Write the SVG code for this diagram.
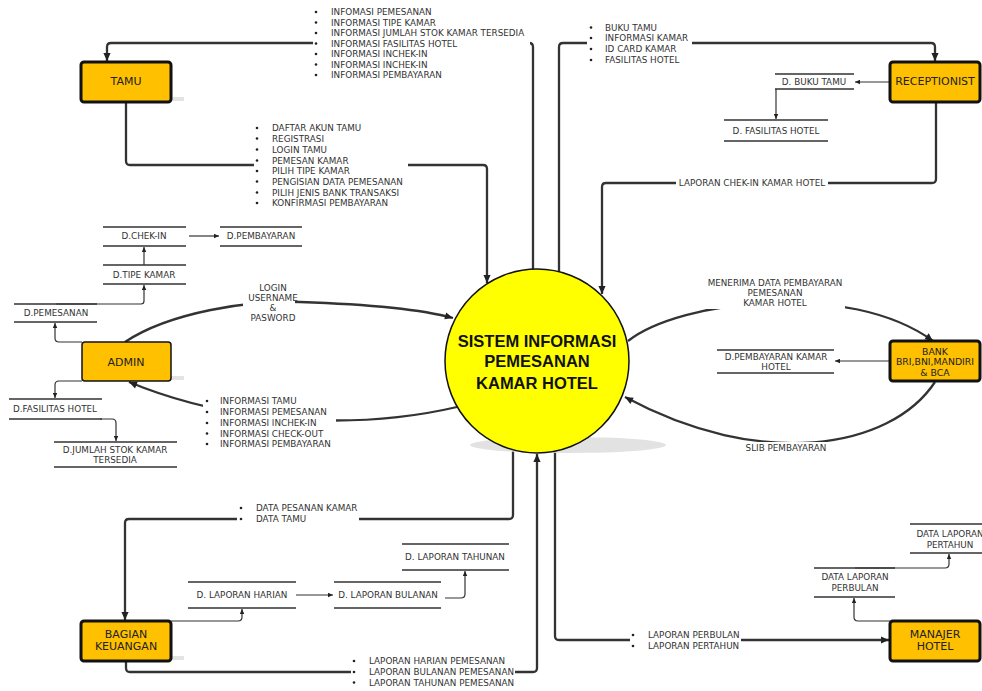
<svg xmlns="http://www.w3.org/2000/svg" width="982" height="691" viewBox="0 0 982 691">
<style>
.bg{fill:#ffffff}
.box{fill:#FFC000;stroke:#111;stroke-width:3}
.box.thin{stroke-width:1.5}
.shadow{fill:#e3e3e3}
.nt{font-family:"DejaVu Sans",Verdana,sans-serif;font-size:11px;fill:#222;text-anchor:middle}
.nts{font-family:"DejaVu Sans",Verdana,sans-serif;font-size:9.3px;fill:#222;text-anchor:middle}
.st{font-family:"DejaVu Sans",Verdana,sans-serif;font-size:8.8px;fill:#333;text-anchor:middle}
.lt{font-family:"DejaVu Sans",Verdana,sans-serif;font-size:8.8px;fill:#333}
.ltc{font-family:"DejaVu Sans",Verdana,sans-serif;font-size:8.8px;fill:#333;text-anchor:middle}
.sl{stroke:#333;stroke-width:1.5;fill:none}
.con{stroke:#333;stroke-width:2.3;fill:none;marker-end:url(#arr)}
.cs{stroke:#333;stroke-width:1.2;fill:none;marker-end:url(#arrs)}
.bul{fill:#222}
.ct{font-family:"Liberation Sans",Arial,sans-serif;font-weight:bold;font-size:16.5px;fill:#111;text-anchor:middle}
</style>
<defs>
<marker id="arr" viewBox="0 0 10 10" refX="10" refY="5" markerWidth="9" markerHeight="8" markerUnits="userSpaceOnUse" orient="auto"><path d="M0,0.5 L10,5 L0,9.5 z" fill="#222"/></marker>
<marker id="arrs" viewBox="0 0 10 10" refX="10" refY="5" markerWidth="6" markerHeight="5" markerUnits="userSpaceOnUse" orient="auto"><path d="M0,0.5 L10,5 L0,9.5 z" fill="#222"/></marker>
</defs>
<rect width="982" height="691" fill="#ffffff"/>

<g id="connectors">
<path class="con" d="M533 270 V47 Q533 43 529 43 H111 Q107 43 107 47 V61"/>
<path class="con" d="M559 272 V47 Q559 43 563 43 H931 Q935 43 935 47 V61"/>
<path class="con" d="M126 102 V161 Q126 165 130 165 H483 Q487 165 487 169 V283"/>
<path class="con" d="M936 102 V179 Q936 183 932 183 H606 Q602 183 602 187 V294"/>
<path class="con" d="M125 342 C170 312 250 300 300 302 C360 304 420 309 453 318" stroke-width="2.6"/>
<path class="con" d="M457 407 C380 425 250 432 129 382" stroke-width="2.6"/>
<path class="con" d="M628 341 C680 300 850 280 933 341" stroke-width="2.6"/>
<path class="con" d="M935 382 C890 450 760 470 625 397" stroke-width="2.6"/>
<path class="con" d="M513 450 V515 Q513 519 509 519 H129 Q125 519 125 523 V620"/>
<path class="con" d="M126 661 V668 Q126 672 130 672 H533 Q537 672 537 668 V454"/>
<path class="con" d="M555 451 V636 Q555 640 559 640 H889"/>
<path class="cs" d="M890 82 H855"/>
<path class="cs" d="M776 89 V119"/>
<path class="cs" d="M189 236 H219"/>
<path class="cs" d="M144 265 V247"/>
<path class="cs" d="M56 304 H141 Q144 304 144 301 V285"/>
<path class="cs" d="M82 342 H59 Q55 342 55 338 V323"/>
<path class="cs" d="M82 381 H59 Q55 381 55 385 V398"/>
<path class="cs" d="M100 419 H112 Q116 419 116 423 V441"/>
<path class="cs" d="M890 361 H835"/>
<path class="cs" d="M171 621 H238 Q242 621 242 617 V609"/>
<path class="cs" d="M296 595 H333"/>
<path class="cs" d="M445 598 H461 Q465 598 465 594 V571"/>
<path class="cs" d="M890 621 H858 Q854 621 854 617 V598"/>
<path class="cs" d="M855 568 H945 Q949 568 949 564 V554"/>
</g>

<g id="labels">
<g id="lbl-tamu-out">
<rect class="bg" x="313" y="5" width="217" height="78"/>
<circle class="bul" cx="316" cy="12" r="1.3"/><text class="lt" x="331" y="15">INFOMASI PEMESANAN</text>
<circle class="bul" cx="316" cy="22.5" r="1.3"/><text class="lt" x="331" y="25.5">INFORMASI TIPE KAMAR</text>
<circle class="bul" cx="316" cy="33" r="1.3"/><text class="lt" x="331" y="36">INFORMASI JUMLAH STOK KAMAR TERSEDIA</text>
<circle class="bul" cx="316" cy="43.5" r="1.3"/><text class="lt" x="331" y="46.5">INFORMASI FASILITAS HOTEL</text>
<circle class="bul" cx="316" cy="54" r="1.3"/><text class="lt" x="331" y="57">INFORMASI INCHEK-IN</text>
<circle class="bul" cx="316" cy="64.5" r="1.3"/><text class="lt" x="331" y="67.5">INFORMASI INCHEK-IN</text>
<circle class="bul" cx="316" cy="75" r="1.3"/><text class="lt" x="331" y="78">INFORMASI PEMBAYARAN</text>
</g>
<g id="lbl-recep-in">
<rect class="bg" x="587" y="20" width="105" height="46"/>
<circle class="bul" cx="591" cy="27.5" r="1.3"/><text class="lt" x="605" y="30.5">BUKU TAMU</text>
<circle class="bul" cx="591" cy="38" r="1.3"/><text class="lt" x="605" y="41">INFORMASI KAMAR</text>
<circle class="bul" cx="591" cy="49" r="1.3"/><text class="lt" x="605" y="52">ID CARD KAMAR</text>
<circle class="bul" cx="591" cy="60" r="1.3"/><text class="lt" x="605" y="63">FASILITAS HOTEL</text>
</g>
<g id="lbl-tamu-in">
<rect class="bg" x="254" y="121" width="154" height="88"/>
<circle class="bul" cx="257" cy="128" r="1.3"/><text class="lt" x="272" y="131">DAFTAR AKUN TAMU</text>
<circle class="bul" cx="257" cy="138.5" r="1.3"/><text class="lt" x="272" y="141.5">REGISTRASI</text>
<circle class="bul" cx="257" cy="149.5" r="1.3"/><text class="lt" x="272" y="152.5">LOGIN TAMU</text>
<circle class="bul" cx="257" cy="160.5" r="1.3"/><text class="lt" x="272" y="163.5">PEMESAN KAMAR</text>
<circle class="bul" cx="257" cy="171" r="1.3"/><text class="lt" x="272" y="174">PILIH TIPE KAMAR</text>
<circle class="bul" cx="257" cy="181.5" r="1.3"/><text class="lt" x="272" y="184.5">PENGISIAN DATA PEMESANAN</text>
<circle class="bul" cx="257" cy="192.5" r="1.3"/><text class="lt" x="272" y="195.5">PILIH JENIS BANK TRANSAKSI</text>
<circle class="bul" cx="257" cy="203" r="1.3"/><text class="lt" x="272" y="206">KONFIRMASI PEMBAYARAN</text>
</g>
<g id="lbl-chekin">
<rect class="bg" x="676" y="177" width="152" height="12"/>
<text class="ltc" x="752" y="186.2">LAPORAN CHEK-IN KAMAR HOTEL</text>
</g>
<g id="lbl-login">
<rect class="bg" x="243" y="282" width="52" height="42"/>
<text class="ltc" x="273" y="291">LOGIN</text>
<text class="ltc" x="273" y="301">USERNAME</text>
<text class="ltc" x="273" y="311">&amp;</text>
<text class="ltc" x="273" y="321">PASWORD</text>
</g>
<g id="lbl-admin-in">
<rect class="bg" x="203" y="394" width="133" height="56"/>
<circle class="bul" cx="207" cy="401" r="1.3"/><text class="lt" x="220" y="404">INFORMASI TAMU</text>
<circle class="bul" cx="207" cy="412" r="1.3"/><text class="lt" x="220" y="415">INFORMASI PEMESANAN</text>
<circle class="bul" cx="207" cy="423" r="1.3"/><text class="lt" x="220" y="426">INFORMASI INCHEK-IN</text>
<circle class="bul" cx="207" cy="433.5" r="1.3"/><text class="lt" x="220" y="436.5">INFORMASI CHECK-OUT</text>
<circle class="bul" cx="207" cy="444" r="1.3"/><text class="lt" x="220" y="447">INFORMASI PEMBAYARAN</text>
</g>
<g id="lbl-bank-in">
<rect class="bg" x="705" y="276" width="140" height="33"/>
<text class="ltc" x="775" y="286">MENERIMA DATA PEMBAYARAN</text>
<text class="ltc" x="775" y="296">PEMESANAN</text>
<text class="ltc" x="775" y="306">KAMAR HOTEL</text>
</g>
<g id="lbl-slib">
<rect class="bg" x="743" y="442" width="86" height="12"/>
<text class="ltc" x="786" y="451">SLIB PEMBAYARAN</text>
</g>
<g id="lbl-keu-in">
<rect class="bg" x="237" y="501" width="122" height="24"/>
<circle class="bul" cx="241" cy="508" r="1.3"/><text class="lt" x="256" y="511">DATA PESANAN KAMAR</text>
<circle class="bul" cx="241" cy="519" r="1.3"/><text class="lt" x="256" y="522">DATA TAMU</text>
</g>
<g id="lbl-keu-out">
<rect class="bg" x="351" y="655" width="164" height="34"/>
<circle class="bul" cx="354" cy="661" r="1.3"/><text class="lt" x="369" y="664">LAPORAN HARIAN PEMESANAN</text>
<circle class="bul" cx="354" cy="672" r="1.3"/><text class="lt" x="369" y="675">LAPORAN BULANAN PEMESANAN</text>
<circle class="bul" cx="354" cy="682.5" r="1.3"/><text class="lt" x="369" y="685.5">LAPORAN TAHUNAN PEMESANAN</text>
</g>
<g id="lbl-manajer-in">
<rect class="bg" x="630" y="629" width="111" height="24"/>
<circle class="bul" cx="633" cy="635" r="1.3"/><text class="lt" x="648" y="638">LAPORAN PERBULAN</text>
<circle class="bul" cx="633" cy="646" r="1.3"/><text class="lt" x="648" y="649">LAPORAN PERTAHUN</text>
</g>
</g>

<g id="sistem">
<ellipse cx="568" cy="445" rx="98" ry="8" fill="#e2e2e2"/>
<circle cx="537" cy="361" r="92" fill="#FFFF00" stroke="#111" stroke-width="1.5"/>
<text class="ct" x="537" y="346.5">SISTEM INFORMASI</text>
<text class="ct" x="537" y="367">PEMESANAN</text>
<text class="ct" x="537" y="388.5">KAMAR HOTEL</text>
</g>

<g id="tamu">
<rect class="shadow" x="171" y="97" width="13" height="4"/>
<rect class="box" x="81" y="62" width="90" height="40" rx="3"/>
<text class="nt" x="126" y="85">TAMU</text>
</g>
<g id="receptionist">
<rect class="box" x="890" y="62" width="90" height="40" rx="3"/>
<text class="nt" x="935" y="85">RECEPTIONIST</text>
</g>
<g id="admin">
<rect class="shadow" x="171" y="376" width="13" height="4"/>
<rect class="box thin" x="82" y="342" width="89" height="39" rx="3"/>
<text class="nt" x="126" y="366">ADMIN</text>
</g>
<g id="bank">
<rect class="box" x="890" y="341" width="90" height="40" rx="3"/>
<text class="nts" x="935" y="354.5">BANK</text>
<text class="nts" x="935" y="364.8">BRI,BNI,MANDIRI</text>
<text class="nts" x="935" y="375.5">&amp; BCA</text>
</g>
<g id="bagian-keuangan">
<rect class="shadow" x="171" y="656" width="13" height="4"/>
<rect class="box" x="81" y="621" width="90" height="40" rx="3"/>
<text class="nt" x="126" y="638">BAGIAN</text>
<text class="nt" x="126" y="650">KEUANGAN</text>
</g>
<g id="manajer-hotel">
<rect class="box" x="890" y="621" width="90" height="40" rx="3"/>
<text class="nt" x="935" y="638">MANAJER</text>
<text class="nt" x="935" y="650">HOTEL</text>
</g>

<g id="d-buku-tamu"><path class="sl" d="M775 74 H854 M775 89 H854"/><text class="st" x="814" y="85.2">D. BUKU TAMU</text></g>
<g id="d-fasilitas-hotel-r"><path class="sl" d="M724 120 H828 M724 141 H828"/><text class="st" x="776" y="133.5">D. FASILITAS HOTEL</text></g>
<g id="d-chekin"><path class="sl" d="M103 227 H186 M103 246 H186"/><text class="st" x="144" y="239.2">D.CHEK-IN</text></g>
<g id="d-pembayaran"><path class="sl" d="M220 227 H302 M220 246 H302"/><text class="st" x="261" y="239.2">D.PEMBAYARAN</text></g>
<g id="d-tipe-kamar"><path class="sl" d="M103 265 H186 M103 284 H186"/><text class="st" x="144" y="278">D.TIPE KAMAR</text></g>
<g id="d-pemesanan"><path class="sl" d="M14 304 H97 M14 322 H97"/><text class="st" x="56" y="316.2">D.PEMESANAN</text></g>
<g id="d-fasilitas-hotel-a"><path class="sl" d="M9 399 H102 M9 419 H102"/><text class="st" x="55" y="412">D.FASILITAS HOTEL</text></g>
<g id="d-jumlah-stok"><path class="sl" d="M54 442 H177 M54 467 H177"/><text class="st" x="115" y="452.5">D.JUMLAH STOK KAMAR</text><text class="st" x="115" y="462.5">TERSEDIA</text></g>
<g id="d-pembayaran-kamar"><path class="sl" d="M717 350 H834 M717 373 H834"/><text class="st" x="776" y="360">D.PEMBAYARAN KAMAR</text><text class="st" x="776" y="369.5">HOTEL</text></g>
<g id="d-laporan-harian"><path class="sl" d="M188 582 H296 M188 608 H296"/><text class="st" x="242" y="598.2">D. LAPORAN HARIAN</text></g>
<g id="d-laporan-bulanan"><path class="sl" d="M334 582 H441 M334 608 H441"/><text class="st" x="388" y="598.2">D. LAPORAN BULANAN</text></g>
<g id="d-laporan-tahunan"><path class="sl" d="M402 544 H509 M402 570 H509"/><text class="st" x="455" y="560.2">D. LAPORAN TAHUNAN</text></g>
<g id="data-laporan-perbulan"><path class="sl" d="M814 568 H895 M814 597 H895"/><text class="st" x="855" y="580">DATA LAPORAN</text><text class="st" x="855" y="591">PERBULAN</text></g>
<g id="data-laporan-pertahun"><path class="sl" d="M910 524 H982 M910 553 H982"/><text class="st" x="950" y="537">DATA LAPORAN</text><text class="st" x="950" y="548">PERTAHUN</text></g>
</svg>
